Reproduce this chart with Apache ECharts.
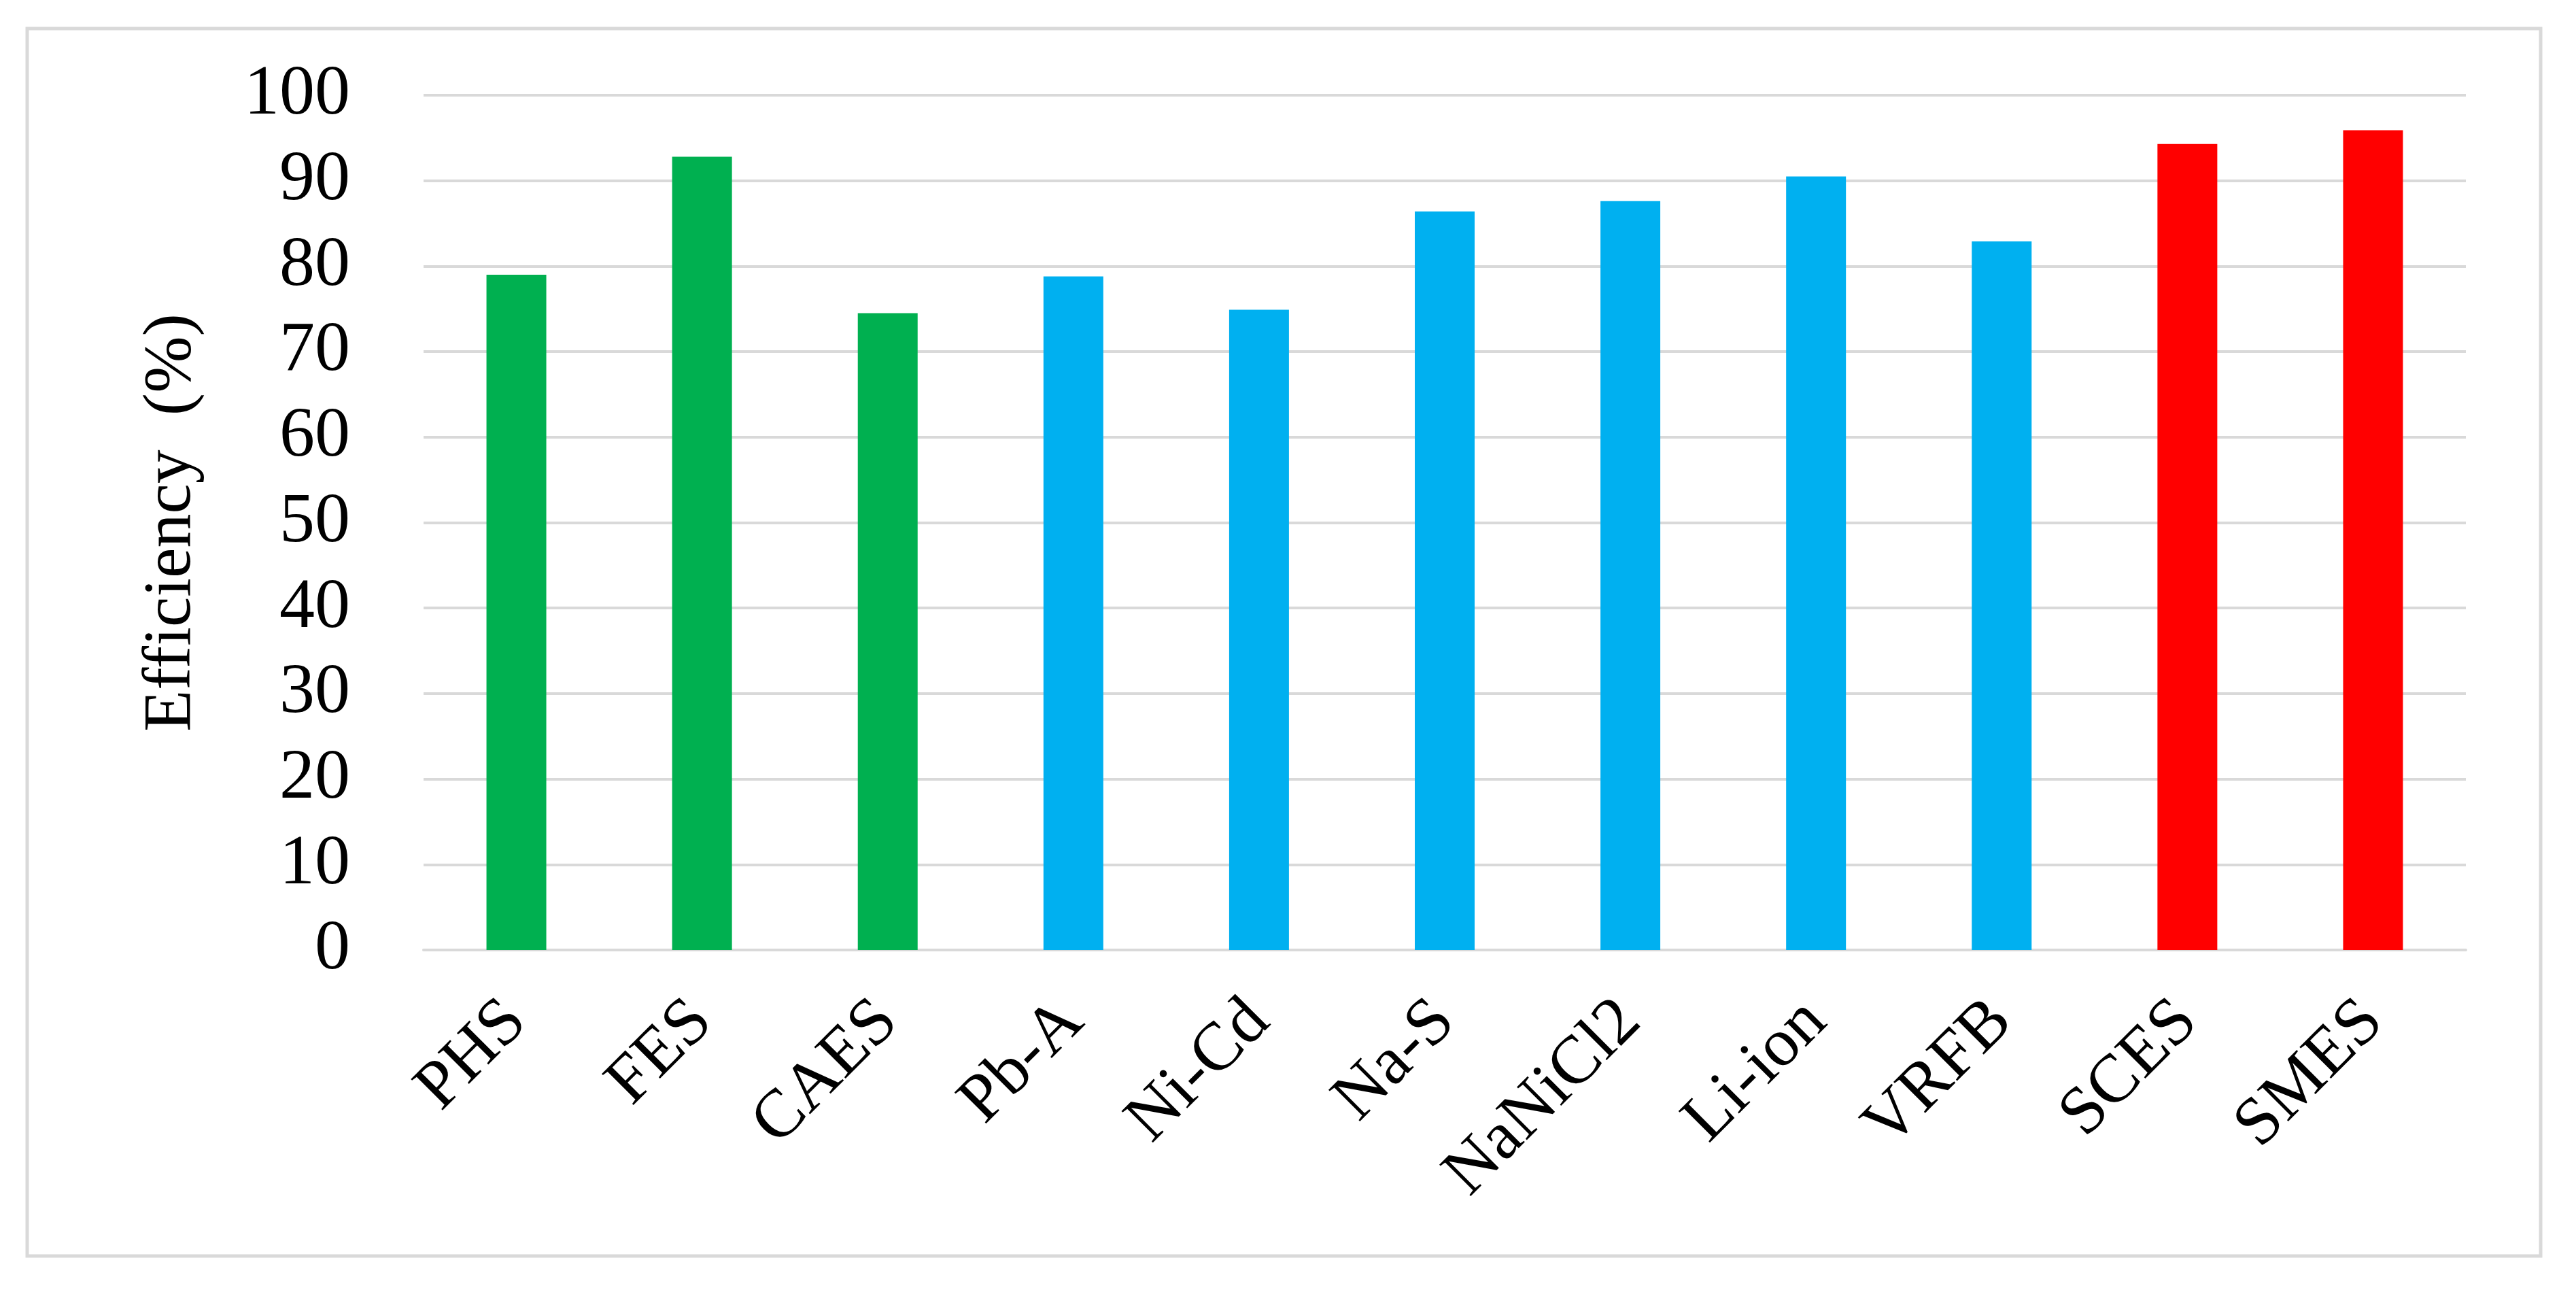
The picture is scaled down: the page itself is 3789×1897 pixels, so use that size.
<!DOCTYPE html>
<html>
<head>
<meta charset="utf-8">
<script src="https://cdn.jsdelivr.net/npm/echarts@6/dist/echarts.min.js"></script>
<style>
  html, body { margin: 0; padding: 0; background: #fff; }
  #chart { width: 3789px; height: 1897px; }
</style>
</head>
<body>
<div id="chart"></div>
<script>
// storage technologies
const categories = ['PHS', 'FES', 'CAES', 'Pb-A', 'Ni-Cd', 'Na-S', 'NaNiCl2', 'Li-ion', 'VRFB', 'SCES', 'SMES'];
// round-trip efficiency (%)
const efficiency = [79.0, 92.8, 74.5, 78.8, 74.9, 86.4, 87.6, 90.5, 82.9, 94.3, 95.9];
// technology family of each bar
const family = ['mechanical', 'mechanical', 'mechanical', 'electrochemical', 'electrochemical',
  'electrochemical', 'electrochemical', 'electrochemical', 'electrochemical', 'electrical', 'electrical'];
const yTicks = [0, 100, 10];

const familyColor = {
  mechanical: '#00B050',
  electrochemical: '#00B0F0',
  electrical: '#FF0000',
};

const font = 'Liberation Serif';
const chart = echarts.init(document.getElementById('chart'));

const option = {
  backgroundColor: '#fff',
  animation: false,
  graphic: [
    {
      type: 'rect',
      shape: { x: 40, y: 42, width: 3697, height: 1805 },
      style: { fill: 'none', stroke: '#d9d9d9', lineWidth: 5 },
    },
  ],
  grid: {
    left: 623,
    right: 162,
    top: 140,
    bottom: 500,
  },
  xAxis: {
    type: 'category',
    data: categories,
    axisLine: { lineStyle: { color: '#d9d9d9', width: 4 } },
    axisTick: { show: false },
    axisLabel: {
      rotate: 45,
      margin: 90,
      color: '#000',
      fontFamily: font,
      fontSize: 100,
    },
  },
  yAxis: {
    type: 'value',
    min: yTicks[0],
    max: yTicks[1],
    interval: yTicks[2],
    name: 'Efficiency  (%)',
    nameLocation: 'middle',
    nameGap: 320,
    nameTextStyle: { color: '#000', fontFamily: font, fontSize: 100 },
    axisLine: { show: false },
    axisTick: { show: false },
    axisLabel: { margin: 108, color: '#000', fontFamily: font, fontSize: 104 },
    splitLine: { lineStyle: { color: '#d9d9d9', width: 4 } },
  },
  series: [
    {
      type: 'bar',
      barWidth: 88,
      data: efficiency.map((v, i) => ({
        value: v,
        itemStyle: { color: familyColor[family[i]] },
      })),
    },
  ],
};

chart.setOption(option);
</script>
</body>
</html>
